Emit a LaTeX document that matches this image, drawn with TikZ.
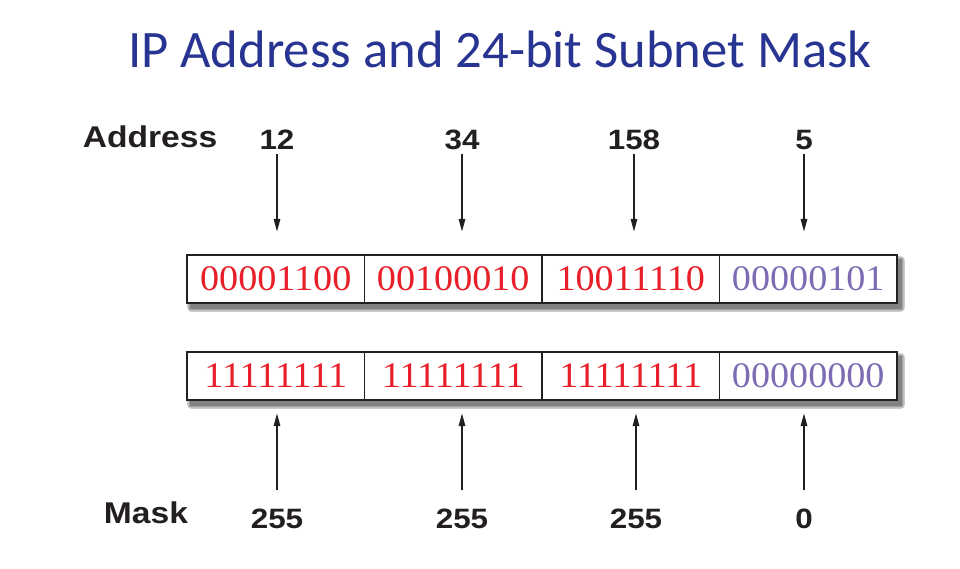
\documentclass[tikz,border=0pt]{standalone}
\usepackage{fontspec}
\setmainfont{Liberation Serif}
\newfontfamily\titlefont{Carlito}
\newfontfamily\labelfont[FakeStretch=1.12]{Liberation Sans}
\newfontfamily\bitfont[FakeStretch=1.06]{Liberation Serif}
\usetikzlibrary{arrows.meta,backgrounds}
\definecolor{titleblue}{RGB}{40,52,145}
\definecolor{bitred}{RGB}{232,30,40}
\definecolor{bitpurple}{RGB}{125,108,180}
\definecolor{labelgray}{RGB}{35,31,32}
\begin{document}
\begin{tikzpicture}[x=0.75pt, y=-0.75pt]
\tikzset{
  cell/.style={draw=labelgray, line width=1.3pt, fill=white, minimum width=133pt, minimum height=36pt,
    inner sep=0pt, text depth=0pt, font=\bitfont\fontsize{27}{30}\selectfont, text=bitred},
  hostcell/.style={cell, text=bitpurple},
  rowshadow/.style={fill=black, opacity=0.2},
  tag/.style={anchor=base, text=labelgray, font=\labelfont\bfseries\fontsize{22.5}{26}\selectfont},
  num/.style={anchor=base, text=labelgray, font=\labelfont\bfseries\fontsize{21}{24}\selectfont},
  arr/.style={-{Triangle[length=9.5pt,width=5pt]}, line width=0.8pt, draw=labelgray}
}
\useasboundingbox (0,0) rectangle (960,568);

\node[anchor=base, text=titleblue, font=\titlefont\fontsize{39.5}{44}\selectfont] (title) at (500,67) {IP Address and 24-bit Subnet Mask};

\node[tag] (address) at (150,147) {Address};
\node[num] (n1) at (277,149) {12};
\node[num] (n2) at (462,149) {34};
\node[num] (n3) at (634,149) {158};
\node[num] (n4) at (804,149) {5};

\node[cell] (a1) at (275.75,279) {00001100};
\node[cell] (a2) at (453.25,279) {00100010};
\node[cell] (a3) at (630.75,279) {10011110};
\node[hostcell] (a4) at (808.25,279) {00000101};

\draw[arr, shorten >=17pt] (n1) -- (n1 |- a1.north);
\draw[arr, shorten >=17pt] (n2) -- (n2 |- a2.north);
\draw[arr, shorten >=17pt] (n3) -- (n3 |- a3.north);
\draw[arr, shorten >=17pt] (n4) -- (n4 |- a4.north);

\node[cell] (m1) at (275.75,376) {11111111};
\node[cell] (m2) at (453.25,376) {11111111};
\node[cell] (m3) at (630.75,376) {11111111};
\node[hostcell] (m4) at (808.25,376) {00000000};

\begin{scope}[on background layer]
\foreach \b in {0,1.5,3}{
  \fill[rowshadow, rounded corners=\b pt] ([shift={(4-\b,5-\b)}]a1.north west) rectangle ([shift={(4+\b,5+\b)}]a4.south east);
  \fill[rowshadow, rounded corners=\b pt] ([shift={(4-\b,5-\b)}]m1.north west) rectangle ([shift={(4+\b,5+\b)}]m4.south east);
}
\end{scope}

\node[tag] (mask) at (146,523) {Mask};
\node[num] (k1) at (277,528) {255};
\node[num] (k2) at (462,528) {255};
\node[num] (k3) at (636,528) {255};
\node[num] (k4) at (804,528) {0};

\draw[arr, shorten <=10pt, shorten >=9.5pt] (k1) -- (k1 |- m1.south);
\draw[arr, shorten <=10pt, shorten >=9.5pt] (k2) -- (k2 |- m2.south);
\draw[arr, shorten <=10pt, shorten >=9.5pt] (k3) -- (k3 |- m3.south);
\draw[arr, shorten <=10pt, shorten >=9.5pt] (k4) -- (k4 |- m4.south);
\end{tikzpicture}
\end{document}
